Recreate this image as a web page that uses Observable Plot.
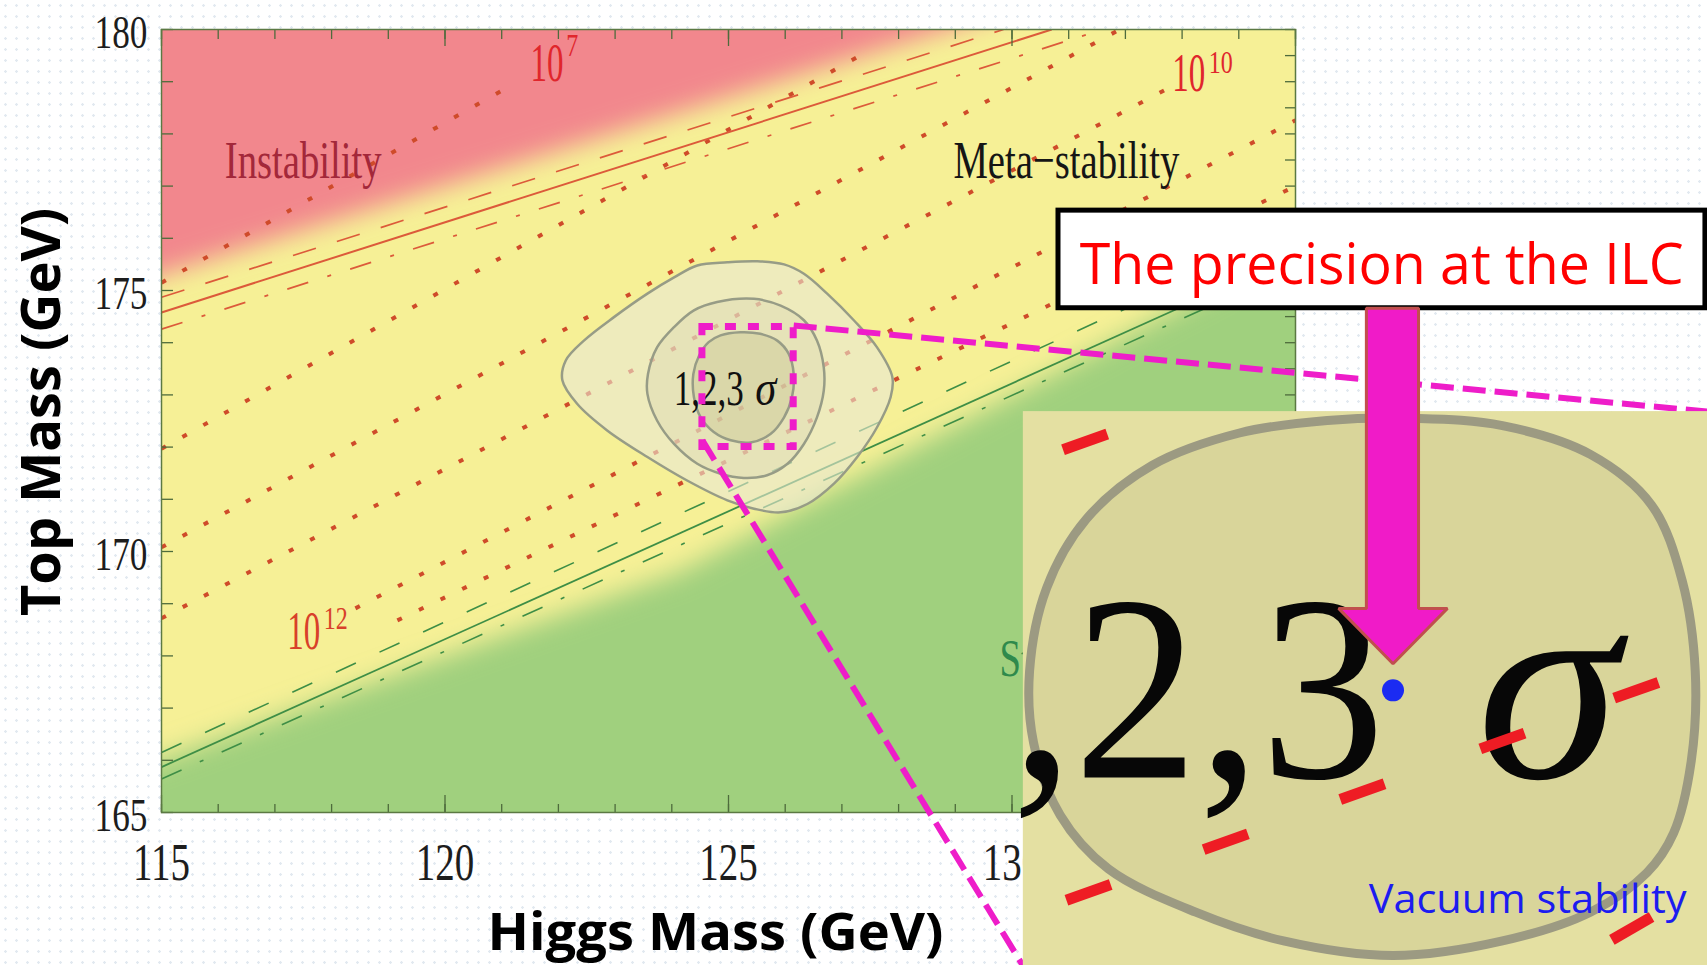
<!DOCTYPE html>
<html>
<head>
<meta charset="utf-8">
<script src="https://cdn.jsdelivr.net/npm/d3@7"></script>
<script src="https://cdn.jsdelivr.net/npm/@observablehq/plot@0.6"></script>
<style>
html, body { margin: 0; padding: 0; width: 1707px; height: 965px; overflow: hidden; background: #ffffff; }
body { background-image: radial-gradient(circle, #e2e9f0 1px, transparent 1.5px); background-size: 11px 11px; }
#chart svg { display: block; }
</style>
</head>
<body>
<div id="chart"></div>
<script>
// ---------- axes ----------
const xTickValues = [115, 120, 125, 130, 135];
const yTickValues = [165, 170, 175, 180];
const xMinorTicks = [115,116,117,118,119,120,121,122,123,124,125,126,127,128,129,130,131,132,133,134,135];
const yMinorTicks = [165,166,167,168,169,170,171,172,173,174,175,176,177,178,179,180];
const yRightTicks = [165,165.5,166,166.5,167,167.5,168,168.5,169,169.5,170,170.5,171,171.5,172,172.5,173,173.5,174,174.5,175,175.5,176,176.5,177,177.5,178,178.5,179,179.5,180];
const xTitle = ["Higgs Mass (GeV)"];
const yTitle = ["Top Mass (GeV)"];

// ---------- phase regions (edges, GeV) ----------
const instabilityEdge = [{x: 112, y: 174.28}, {x: 138, y: 183.1}];
const stabilityEdge = [{x: 112, y: 164.85}, {x: 124.15, y: 169.6}, {x: 138, y: 177.6}];

// ---------- instability-scale dotted lines ----------
const scaleLines = [
  {x1: 115, y1: 175.15, x2: 121.2, y2: 178.95},
  {x1: 115, y1: 171.97, x2: 127.4, y2: 179.55},
  {x1: 115, y1: 170.08, x2: 131.9, y2: 180.0},
  {x1: 115, y1: 168.72, x2: 132.8, y2: 178.9},
  {x1: 118.42, y1: 168.91, x2: 135, y2: 178.26},
  {x1: 119.16, y1: 168.68, x2: 135, y2: 177.0}
];

// ---------- boundary lines ----------
const instabilityLines = [
  {kind: "dashed", x1: 115, y1: 174.87, x2: 129.85, y2: 180},
  {kind: "solid", x1: 115, y1: 174.58, x2: 130.7, y2: 180},
  {kind: "dashdot", x1: 115, y1: 174.26, x2: 131.6, y2: 180}
];
const stabilityLines = [
  {kind: "dashed", x1: 115, y1: 166.15, x2: 135, y2: 176.15},
  {kind: "solid", x1: 115, y1: 165.87, x2: 135, y2: 175.67},
  {kind: "dashdot", x1: 115, y1: 165.64, x2: 135, y2: 175.44}
];

// ---------- 1,2,3 sigma contours ----------
const sigma3 = [[124.45,175.48],[124.98,175.54],[125.51,175.56],[125.98,175.50],[126.33,175.32],[126.74,174.94],[127.21,174.43],[127.62,173.91],[127.89,173.34],[127.86,172.96],[127.62,172.38],[127.27,171.81],[126.86,171.30],[126.39,170.91],[125.92,170.75],[125.45,170.82],[124.98,170.98],[124.27,171.36],[123.57,171.81],[122.86,172.32],[122.33,172.83],[122.07,173.28],[122.13,173.66],[122.45,174.04],[122.98,174.49],[123.57,174.94],[124.04,175.25]];
const sigma2 = [[124.80,174.78],[125.45,174.84],[125.92,174.71],[126.33,174.43],[126.56,174.04],[126.68,173.53],[126.68,173.08],[126.56,172.57],[126.33,172.06],[126.04,171.68],[125.68,171.46],[125.27,171.41],[124.86,171.49],[124.45,171.68],[124.04,172.06],[123.74,172.51],[123.57,173.02],[123.58,173.40],[123.74,173.91],[124.04,174.30],[124.39,174.62]];
const sigma1 = [[124.86,174.14],[125.21,174.20],[125.56,174.17],[125.86,174.04],[126.06,173.79],[126.15,173.40],[126.12,172.96],[125.98,172.57],[125.74,172.25],[125.39,172.09],[125.04,172.13],[124.74,172.29],[124.51,172.57],[124.39,172.96],[124.38,173.40],[124.48,173.75],[124.65,174.01]];

// ---------- labels ----------
const regionLabels = [
  {text: "Instability", x: 117.5, y: 177.16, color: "#A3283A", anchor: "middle"},
  {text: "Meta\u2212stability", x: 130.96, y: 177.16, color: "#151515", anchor: "middle"},
  {text: "Stability", x: 129.78, y: 167.62, color: "#2F8A4C", anchor: "start"}
];
const powerLabels = [
  {base: "10", exp: "7", x: 122.09, y: 179.02, xe: 122.14, ye: 179.50, color: "#E0262C"},
  {base: "10", exp: "10", x: 133.41, y: 178.83, xe: 133.47, ye: 179.16, color: "#E0262C"},
  {base: "10", exp: "12", x: 117.80, y: 168.14, xe: 117.86, ye: 168.52, color: "#D8402A"}
];
const sigmaLabel = [{digits: "1,2,3", sym: "\u03C3", x: 125.27, xs: 125.47, y: 172.80}];

// ---------- zoom annotation ----------
const zoomSquare = [{x1: 124.54, x2: 126.15, y1: 172.0, y2: 174.30}];
const zoomLinks = [
  {x1: 126.15, y1: 174.33, x2: 142.27, y2: 172.68},
  {x1: 124.54, y1: 172.13, x2: 130.19, y2: 162.07}
];
const insetBox = [{x1: 130.2, x2: 142.6, y1: 161.8, y2: 172.68}];
const insetContour = [[137.11,172.55],[138.65,172.41],[140.20,171.86],[141.28,170.89],[141.82,169.44],[142.05,167.71],[141.98,165.99],[141.67,164.61],[141.20,163.85],[140.20,163.09],[138.65,162.54],[136.72,162.26],[134.79,162.54],[133.24,163.09],[131.70,163.92],[130.85,164.95],[130.38,166.34],[130.31,167.71],[130.61,169.30],[131.31,170.62],[132.47,171.65],[134.01,172.27],[135.56,172.51]];
const insetDashes = [
  {x1: 130.90, y1: 171.95, x2: 131.68, y2: 172.25},
  {x1: 135.79, y1: 165.25, x2: 136.57, y2: 165.55},
  {x1: 138.26, y1: 166.22, x2: 139.04, y2: 166.52},
  {x1: 140.62, y1: 167.19, x2: 141.40, y2: 167.49},
  {x1: 133.38, y1: 164.29, x2: 134.16, y2: 164.59},
  {x1: 130.96, y1: 163.32, x2: 131.74, y2: 163.62},
  {x1: 140.58, y1: 162.56, x2: 141.28, y2: 163.00}
];
const insetText = [{digits: ",2,3", sym: "\u03C3", x: 129.99, xs: 138.2, y: 165.67}];
const ilcPoint = [{x: 136.72, y: 167.34}];
const insetCaption = [{text: "Vacuum stability", x: 136.29, y: 163.08}];
const titleBox = [{x1: 130.82, x2: 142.23, y1: 174.66, y2: 176.53}];
const titleText = [{text: "The precision at the ILC", x: 136.52, y: 175.13}];
const arrowShape = [[136.25,174.66],[137.17,174.66],[137.17,168.91],[137.68,168.91],[136.72,167.85],[135.76,168.91],[136.25,168.91]];

const SERIF = "'Liberation Serif', 'Times New Roman', serif";
const SANS = "'Open Sans', 'Noto Sans', sans-serif";
const TICK = "#4E6B3C";
const PINK = "#EE1DC9";

const chart = Plot.plot({
  width: 1707,
  height: 965,
  marginLeft: 161,
  marginRight: 412,
  marginTop: 29,
  marginBottom: 153,
  style: {background: "transparent", overflow: "visible"},
  x: {domain: [115, 135], axis: null},
  y: {domain: [165, 180], axis: null},
  color: {type: "identity"},
  marks: [
    Plot.frame({fill: "#F6F096", stroke: null}),
    Plot.areaY(instabilityEdge, {x: "x", y1: "y", y2: () => 185, fill: "#F2878D", clip: true, ariaDescription: "soft"}),
    Plot.areaY(stabilityEdge, {x: "x", y1: () => 160, y2: "y", fill: "#A0D07E", clip: true, ariaDescription: "soft"}),

    Plot.link(scaleLines, {x1: "x1", y1: "y1", x2: "x2", y2: "y2", stroke: "#CF4B2A", strokeWidth: 4, strokeDasharray: "5,19", clip: true}),

    Plot.link(instabilityLines.filter(d => d.kind === "solid"), {x1: "x1", y1: "y1", x2: "x2", y2: "y2", stroke: "#DC5A3A", strokeWidth: 2, clip: true}),
    Plot.link(instabilityLines.filter(d => d.kind === "dashed"), {x1: "x1", y1: "y1", x2: "x2", y2: "y2", stroke: "#DC5A3A", strokeWidth: 1.7, strokeDasharray: "24,22", clip: true}),
    Plot.link(instabilityLines.filter(d => d.kind === "dashdot"), {x1: "x1", y1: "y1", x2: "x2", y2: "y2", stroke: "#DC5A3A", strokeWidth: 1.7, strokeDasharray: "22,20,4,20", clip: true}),
    Plot.link(stabilityLines.filter(d => d.kind === "solid"), {x1: "x1", y1: "y1", x2: "x2", y2: "y2", stroke: "#3E8E46", strokeWidth: 1.8, clip: true}),
    Plot.link(stabilityLines.filter(d => d.kind === "dashed"), {x1: "x1", y1: "y1", x2: "x2", y2: "y2", stroke: "#3E8E46", strokeWidth: 1.6, strokeDasharray: "22,26", clip: true}),
    Plot.link(stabilityLines.filter(d => d.kind === "dashdot"), {x1: "x1", y1: "y1", x2: "x2", y2: "y2", stroke: "#3E8E46", strokeWidth: 1.6, strokeDasharray: "22,20,4,20", clip: true}),

    Plot.line(sigma3, {x: d => d[0], y: d => d[1], curve: "catmull-rom-closed", fill: "#EAE8D6", fillOpacity: 0.6, stroke: "#979C86", strokeWidth: 2.5}),
    Plot.line(sigma2, {x: d => d[0], y: d => d[1], curve: "catmull-rom-closed", fill: "#D5D2B0", fillOpacity: 0.3, stroke: "#979C86", strokeWidth: 2.5}),
    Plot.line(sigma1, {x: d => d[0], y: d => d[1], curve: "catmull-rom-closed", fill: "#C4BF8C", fillOpacity: 0.35, stroke: "#979C86", strokeWidth: 2.5}),

    Plot.text(regionLabels.filter(d => d.anchor === "middle"), {x: "x", y: "y", text: "text", fill: "color", textAnchor: "middle", lineAnchor: "bottom", fontFamily: SERIF, fontSize: 53, ariaDescription: "sq=0.73"}),
    Plot.text(regionLabels.filter(d => d.anchor === "start"), {x: "x", y: "y", text: "text", fill: "color", textAnchor: "start", lineAnchor: "bottom", fontFamily: SERIF, fontSize: 53, ariaDescription: "sq=0.73"}),
    Plot.text(powerLabels, {x: "x", y: "y", text: "base", fill: "color", textAnchor: "end", lineAnchor: "bottom", fontFamily: SERIF, fontSize: 55, ariaDescription: "sq=0.6"}),
    Plot.text(powerLabels, {x: "xe", y: "ye", text: "exp", fill: "color", textAnchor: "start", lineAnchor: "bottom", fontFamily: SERIF, fontSize: 32, ariaDescription: "sq=0.75"}),
    Plot.text(sigmaLabel, {x: "x", y: "y", text: "digits", fill: "#111", textAnchor: "end", lineAnchor: "bottom", fontFamily: SERIF, fontSize: 50, ariaDescription: "sq=0.7"}),
    Plot.text(sigmaLabel, {x: "xs", y: "y", text: "sym", fill: "#111", textAnchor: "start", lineAnchor: "bottom", fontFamily: SERIF, fontStyle: "italic", fontSize: 50, ariaDescription: "sq=0.85"}),

    // ticks (inward)
    Plot.ruleX(xMinorTicks, {stroke: TICK, strokeWidth: 1.3, insetTop: 775}),
    Plot.ruleX(xTickValues, {stroke: TICK, strokeWidth: 1.3, insetTop: 766}),
    Plot.ruleX(xMinorTicks, {stroke: TICK, strokeWidth: 1.3, insetBottom: 773}),
    Plot.ruleX(xTickValues, {stroke: TICK, strokeWidth: 1.3, insetBottom: 766}),
    Plot.ruleY(yMinorTicks, {stroke: TICK, strokeWidth: 1.3, insetRight: 1122}),
    Plot.ruleY(yRightTicks, {stroke: TICK, strokeWidth: 1.3, insetLeft: 1124}),
    Plot.frame({stroke: "#5B7943", strokeWidth: 1.5}),

    // tick labels
    Plot.text(xTickValues, {x: d => d, frameAnchor: "bottom", dy: 67, lineAnchor: "bottom", textAnchor: "middle", fontFamily: SERIF, fontSize: 52, fill: "#1d1d1d", ariaDescription: "sq=0.75"}),
    Plot.text(yTickValues, {y: d => d, frameAnchor: "left", dx: -14, dy: 18, lineAnchor: "bottom", textAnchor: "end", fontFamily: SERIF, fontSize: 47, fill: "#1d1d1d", ariaDescription: "sq=0.75"}),

    // axis titles
    Plot.text(xTitle, {frameAnchor: "bottom", dx: -13, dy: 137, lineAnchor: "bottom", textAnchor: "middle", fontFamily: SANS, fontWeight: "bold", fontSize: 52, fill: "#000", ariaDescription: "fit=456"}),
    Plot.text(yTitle, {frameAnchor: "left", dx: -118, dy: -9, rotate: -90, lineAnchor: "middle", textAnchor: "middle", fontFamily: SANS, fontWeight: "bold", fontSize: 53, fill: "#000", ariaDescription: "fit=408"}),

    // zoom square and connectors
    Plot.rect(zoomSquare, {x1: "x1", x2: "x2", y1: "y1", y2: "y2", fill: "none", stroke: PINK, strokeWidth: 7, strokeDasharray: "11,12"}),
    Plot.link(zoomLinks, {x1: "x1", y1: "y1", x2: "x2", y2: "y2", stroke: PINK, strokeWidth: 6, strokeDasharray: "23,9"}),

    // inset
    Plot.rect(insetBox, {x1: "x1", x2: "x2", y1: "y1", y2: "y2", fill: "#E4E0A2"}),
    Plot.line(insetContour, {x: d => d[0], y: d => d[1], curve: "catmull-rom-closed", fill: "#D9D59A", stroke: "#9C9A82", strokeWidth: 9}),
    Plot.text(insetText, {x: "x", y: "y", text: "digits", fill: "#070707", textAnchor: "start", lineAnchor: "bottom", fontFamily: SERIF, fontSize: 265, ariaDescription: "sq=0.94"}),
    Plot.text(insetText, {x: "xs", y: "y", text: "sym", fill: "#070707", textAnchor: "start", lineAnchor: "bottom", fontFamily: SERIF, fontStyle: "italic", fontSize: 275, ariaDescription: "sq=1.05"}),
    Plot.link(insetDashes, {x1: "x1", y1: "y1", x2: "x2", y2: "y2", stroke: "#EE1C24", strokeWidth: 11}),
    Plot.dot(ilcPoint, {x: "x", y: "y", r: 11, fill: "#1B2BF2", stroke: null}),
    Plot.text(insetCaption, {x: "x", y: "y", text: "text", fill: "#1C1CF0", textAnchor: "start", lineAnchor: "bottom", fontFamily: SANS, fontSize: 41, ariaDescription: "fit=318"}),

    // title box
    Plot.rect(titleBox, {x1: "x1", x2: "x2", y1: "y1", y2: "y2", fill: "#ffffff", stroke: "#000000", strokeWidth: 5}),
    Plot.text(titleText, {x: "x", y: "y", text: "text", fill: "#FF0000", textAnchor: "middle", lineAnchor: "bottom", fontFamily: SANS, fontSize: 57, ariaDescription: "fit=604"}),

    // arrow
    Plot.line(arrowShape, {x: d => d[0], y: d => d[1], curve: "linear-closed", fill: "#F01BC8", stroke: "#C0504D", strokeWidth: 3, strokeLinejoin: "miter"})
  ]
});

const root = document.getElementById("chart");
root.append(chart);

const NS = "http://www.w3.org/2000/svg";
const defs = document.createElementNS(NS, "defs");
defs.innerHTML = '<filter id="soft" x="-10%" y="-10%" width="120%" height="120%"><feGaussianBlur stdDeviation="13"/></filter>';
chart.insertBefore(defs, chart.firstChild);
chart.querySelectorAll('[aria-description="soft"]').forEach(g => g.setAttribute("filter", "url(#soft)"));

chart.querySelectorAll('[aria-description^="sq="]').forEach(g => {
  const f = +g.getAttribute("aria-description").slice(3);
  g.querySelectorAll("text").forEach(t => {
    const w = t.getComputedTextLength();
    if (w > 0) { t.setAttribute("textLength", (w * f).toFixed(1)); t.setAttribute("lengthAdjust", "spacingAndGlyphs"); }
  });
});
chart.querySelectorAll('[aria-description^="fit="]').forEach(g => {
  const w = +g.getAttribute("aria-description").slice(4);
  g.querySelectorAll("text").forEach(t => { t.setAttribute("textLength", w); t.setAttribute("lengthAdjust", "spacingAndGlyphs"); });
});
</script>
</body>
</html>
